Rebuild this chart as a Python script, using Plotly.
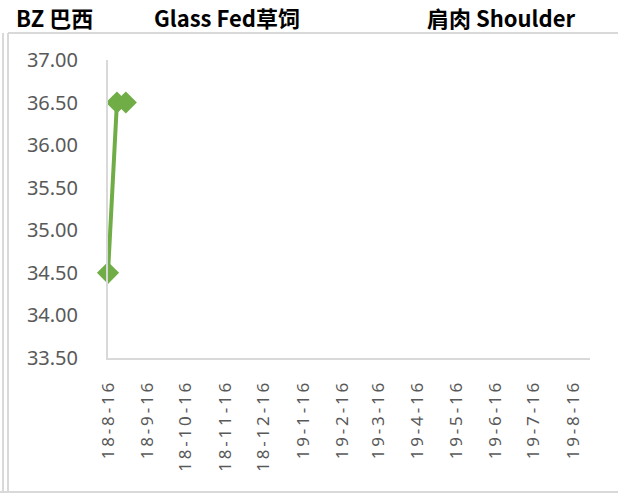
import plotly.graph_objects as go

# data
dates = ["2018-08-16", "2018-08-23", "2018-08-30"]
prices = [34.50, 36.50, 36.50]

tick_dates = ["2018-08-16", "2018-09-16", "2018-10-16", "2018-11-16", "2018-12-16",
              "2019-01-16", "2019-02-16", "2019-03-16", "2019-04-16", "2019-05-16",
              "2019-06-16", "2019-07-16", "2019-08-16"]
tick_labels = ["18-8-16", "18-9-16", "18-10-16", "18-11-16", "18-12-16",
               "19-1-16", "19-2-16", "19-3-16", "19-4-16", "19-5-16",
               "19-6-16", "19-7-16", "19-8-16"]

W, H = 618, 494
L, R, T, B = 108, 28, 60, 136
pw, ph = W - L - R, H - T - B


def px(x):
    return (x - L) / pw


def py(y):
    return (H - B - y) / ph


def spaced(s):
    return "\u2009".join(s)


fig = go.Figure()

fig.add_trace(go.Scatter(
    x=dates, y=prices,
    mode="lines+markers",
    line=dict(color="#70ad47", width=4),
    marker=dict(symbol="diamond", size=17, color="#70ad47"),
    cliponaxis=False,
    showlegend=False,
))

grey = "#d9d9d9"
fig.update_xaxes(
    type="date",
    range=["2018-08-16", "2019-08-29"],
    tickvals=tick_dates,
    ticktext=[spaced(t) for t in tick_labels],
    tickangle=-90,
    showgrid=False, zeroline=False,
    showline=True, linecolor=grey, linewidth=2,
    ticks="", ticklabelstandoff=16,
    tickfont=dict(family="Noto Sans", size=17, color="#595959"),
)
fig.update_yaxes(
    range=[33.5, 37.0],
    dtick=0.5, tick0=33.5,
    tickformat=".2f",
    showgrid=False, zeroline=False,
    showline=True, linecolor=grey, linewidth=2,
    ticks="", ticklabelstandoff=24,
    tickfont=dict(family="Noto Sans", size=20, color="#595959"),
)

titles = [("BZ 巴西", 14), ("Glass Fed草饲", 152), ("肩肉 Shoulder", 425)]
for text, x in titles:
    fig.add_annotation(
        text=f"<b>{text}</b>", x=px(x), y=py(17),
        xref="paper", yref="paper", xanchor="left", yanchor="middle",
        showarrow=False,
        font=dict(family="Noto Sans CJK SC", size=22, color="#000000"),
    )

# chart frame
frame = dict(color=grey, width=2)
fig.add_shape(type="line", xref="paper", yref="paper",
              x0=px(3), x1=px(3), y0=py(33), y1=py(493), line=frame)
fig.add_shape(type="line", xref="paper", yref="paper",
              x0=px(8), x1=px(8), y0=py(33), y1=py(493), line=frame)
fig.add_shape(type="line", xref="paper", yref="paper",
              x0=px(8), x1=px(618), y0=py(33), y1=py(33), line=frame)
fig.add_shape(type="line", xref="paper", yref="paper",
              x0=px(0), x1=px(618), y0=py(492), y1=py(492), line=frame)

fig.update_layout(
    width=W, height=H,
    margin=dict(l=L, r=R, t=T, b=B),
    paper_bgcolor="white", plot_bgcolor="white",
)

fig.write_html("out.html", config={"displayModeBar": False},
               post_script="document.body.style.margin = '0';")
